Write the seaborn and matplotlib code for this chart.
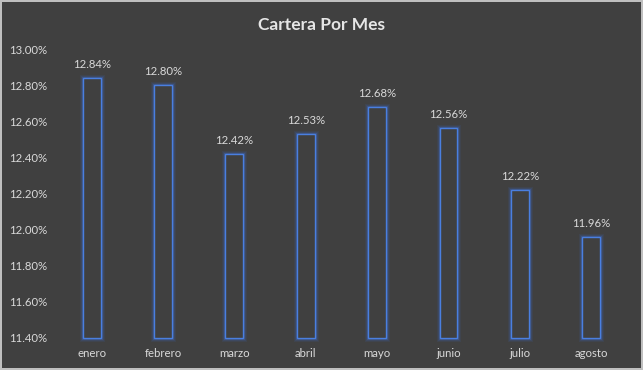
import matplotlib
matplotlib.use("Agg")
import matplotlib.pyplot as plt
import matplotlib.patheffects as pe
import seaborn as sns
import pandas as pd
from matplotlib.ticker import FuncFormatter, MultipleLocator

meses = ["enero", "febrero", "marzo", "abril", "mayo", "junio", "julio", "agosto"]
valores = [12.84, 12.80, 12.42, 12.53, 12.68, 12.56, 12.22, 11.96]
y_min, y_max = 11.40, 13.00

BG = "#404040"
TXT = "#d9d9d9"
BLUE = "#4a7fe0"

sns.set_theme(style="white")
plt.rcParams["font.family"] = ["Lato", "DejaVu Sans"]

df = pd.DataFrame({"mes": meses, "valor": valores})

fig = plt.figure(figsize=(6.43, 3.70), dpi=100, facecolor=BG)
fig.patch.set_edgecolor("#bfbfbf")
fig.patch.set_linewidth(1.5)
ax = fig.add_axes([0.087, 0.0865, 0.888, 0.781])
ax.set_facecolor(BG)

sns.barplot(data=df, x="mes", y="valor", ax=ax, width=0.25,
            color=BG, edgecolor=BLUE, linewidth=1.0, saturation=1)

for p in ax.patches:
    top = p.get_y() + p.get_height()
    p.set_y(y_min)
    p.set_height(top - y_min)
    p.set_facecolor(BG)
    p.set_clip_on(False)
    p.set_path_effects([
        pe.Stroke(linewidth=5, foreground="#3a6bd0", alpha=0.10),
        pe.Stroke(linewidth=3.5, foreground="#3a6bd0", alpha=0.16),
        pe.Stroke(linewidth=2.2, foreground="#3f75dd", alpha=0.28),
        pe.Normal(),
    ])

ax.set_ylim(y_min, y_max)
ax.yaxis.set_major_locator(MultipleLocator(0.2))
ax.yaxis.set_major_formatter(FuncFormatter(lambda v, _: f"{v:.2f}%"))

for i, v in enumerate(valores):
    ax.text(i, v + 0.045, f"{v:.2f}%", ha="center", va="bottom",
            color=TXT, fontsize=8.2)

ax.set_xlabel("")
ax.set_ylabel("")
for s in ax.spines.values():
    s.set_visible(False)
ax.tick_params(axis="both", colors=TXT, labelsize=8.2, length=0)
ax.tick_params(axis="x", pad=7)
ax.tick_params(axis="y", pad=6)
ax.grid(False)

fig.suptitle("Cartera Por Mes", color="#e6e6e6", fontsize=12.5,
             fontweight="bold", y=0.955)

fig.savefig("out.png", dpi=100, facecolor=BG, edgecolor=fig.patch.get_edgecolor())
